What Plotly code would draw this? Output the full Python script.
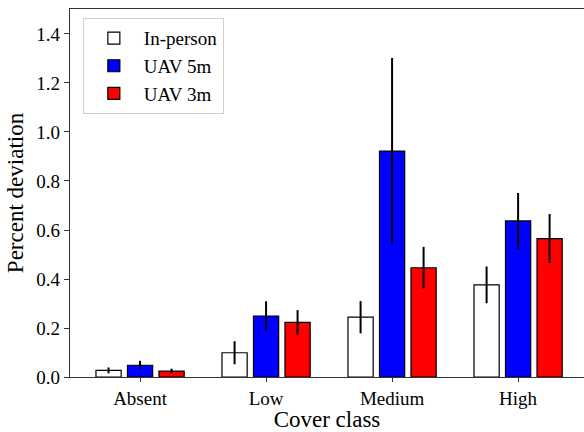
import plotly.graph_objects as go

categories = ["Absent", "Low", "Medium", "High"]
series_names = ["In-person", "UAV 5m", "UAV 3m"]
in_person = [0.027, 0.099, 0.244, 0.376]
in_person_err = [0.012, 0.047, 0.066, 0.075]
uav5 = [0.048, 0.249, 0.922, 0.637]
uav5_err = [0.018, 0.060, 0.380, 0.114]
uav3 = [0.024, 0.223, 0.446, 0.565]
uav3_err = [0.010, 0.050, 0.085, 0.100]
colors = ["white", "#0000ff", "#ff0000"]
y_ticks = [0.0, 0.2, 0.4, 0.6, 0.8, 1.0, 1.2, 1.4]

font = "Liberation Serif, Times New Roman, serif"
fig = go.Figure()
for name, vals, errs, col in zip(series_names, [in_person, uav5, uav3],
                                 [in_person_err, uav5_err, uav3_err], colors):
    fig.add_trace(go.Bar(
        x=categories, y=vals, name=name,
        marker=dict(color=col, line=dict(color="black", width=1.2)),
        error_y=dict(type="data", array=errs, color="black", thickness=2, width=0),
    ))

fig.update_layout(
    width=584, height=432,
    margin=dict(l=70, r=0, t=9, b=55),
    plot_bgcolor="white", paper_bgcolor="white",
    barmode="group", bargap=0.25, bargroupgap=0.2,
    font=dict(family=font, color="black", size=19),
    showlegend=True,
    legend=dict(x=0.025, y=0.975, xanchor="left", yanchor="top",
                bordercolor="#d0d0d0", borderwidth=1, bgcolor="white",
                font=dict(size=19, family=font), itemwidth=50,
                tracegroupgap=4),
)
fig.update_xaxes(
    range=[-0.556, 3.523], showline=True, linecolor="#333", linewidth=1.2, mirror=True,
    ticks="outside", ticklen=4, tickcolor="#333", tickfont=dict(size=19),
    title=dict(text="Cover class", font=dict(size=23), standoff=2),
    automargin=False,
)
fig.update_yaxes(
    range=[0, 1.502], tickvals=y_ticks, ticktext=[f"{v:.1f}" for v in y_ticks],
    showline=True, linecolor="#333", linewidth=1.2, mirror=True, showgrid=False, zeroline=False,
    ticks="outside", ticklen=5, tickcolor="#333", tickfont=dict(size=19),
    title=dict(text="Percent deviation", font=dict(size=23), standoff=6),
    automargin=False,
)
fig.write_html("out.html", config={"displayModeBar": False},
               post_script="document.body.style.margin='0';")
